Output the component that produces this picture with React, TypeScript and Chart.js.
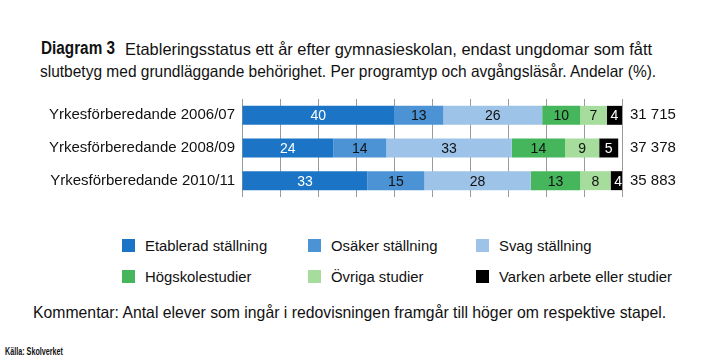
import React, { useEffect, useRef } from "react";
import { Chart, registerables } from "chart.js";

Chart.register(...registerables);

const categories = [
  "Yrkesförberedande 2006/07",
  "Yrkesförberedande 2008/09",
  "Yrkesförberedande 2010/11",
];
const totals = ["31 715", "37 378", "35 883"];

const seriesNames = [
  "Etablerad ställning",
  "Osäker ställning",
  "Svag ställning",
  "Högskolestudier",
  "Övriga studier",
  "Varken arbete eller studier",
];
const etablerad = [40, 24, 33];
const osaker = [13, 14, 15];
const svag = [26, 33, 28];
const hogskole = [10, 14, 13];
const ovriga = [7, 9, 8];
const varken = [4, 5, 4];

const titleBold = "Diagram 3";
const titleLine1 = "Etableringsstatus ett år efter gymnasieskolan, endast ungdomar som fått";
const titleLine2 = "slutbetyg med grundläggande behörighet. Per programtyp och avgångsläsår. Andelar (%).";
const comment = "Kommentar: Antal elever som ingår i redovisningen framgår till höger om respektive stapel.";
const source = "Källa: Skolverket";

const seriesValues = [etablerad, osaker, svag, hogskole, ovriga, varken];
const seriesColors = ["#1b74c5", "#4b93d4", "#9dc4e8", "#45b65b", "#a6dc9c", "#000000"];
const labelColors = ["#ffffff", "#111111", "#111111", "#111111", "#111111", "#ffffff"];

const SANS = '"Liberation Sans", Arial, sans-serif';

let measureCtx: CanvasRenderingContext2D | null = null;
function measure(text: string, size: number, bold = false) {
  if (!measureCtx) measureCtx = document.createElement("canvas").getContext("2d");
  measureCtx!.font = `${bold ? "bold " : ""}${size}px ${SANS}`;
  return measureCtx!.measureText(text).width;
}

function Scaled(props: {
  text: string;
  left: number;
  top: number;
  width: number;
  size: number;
  lineHeight: number;
  bold?: boolean;
  scale?: number;
}) {
  const s = props.scale ?? props.width / measure(props.text, props.size, props.bold);
  return (
    <div
      style={{
        position: "absolute",
        left: props.left,
        top: props.top,
        fontFamily: SANS,
        fontSize: props.size,
        fontWeight: props.bold ? "bold" : "normal",
        lineHeight: `${props.lineHeight}px`,
        whiteSpace: "nowrap",
        transform: `scaleX(${s})`,
        transformOrigin: "0 0",
      }}
    >
      {props.text}
    </div>
  );
}

const valueLabels = {
  id: "valueLabels",
  afterDatasetsDraw(chart: any) {
    const ctx = chart.ctx;
    ctx.save();
    ctx.font = `14px ${SANS}`;
    ctx.textAlign = "center";
    ctx.textBaseline = "middle";
    chart.data.datasets.forEach((ds: any, di: number) => {
      const meta = chart.getDatasetMeta(di);
      meta.data.forEach((el: any, i: number) => {
        const v = ds.data[i];
        const cx = (el.x + el.base) / 2;
        ctx.fillStyle = labelColors[di];
        ctx.fillText(String(v), cx, el.y + 1);
      });
    });
    ctx.restore();
  },
};

function BarChart() {
  const ref = useRef<HTMLCanvasElement>(null);
  useEffect(() => {
    const noPad = (scale: any) => {
      scale.paddingTop = 0;
      scale.paddingBottom = 0;
    };
    const chart = new Chart(ref.current!, {
      type: "bar",
      data: {
        labels: categories,
        datasets: seriesNames.map((name, i) => ({
          label: name,
          data: seriesValues[i],
          backgroundColor: seriesColors[i],
          borderWidth: 0,
          categoryPercentage: 1,
          barPercentage: 0.58,
          yAxisID: "y",
        })),
      },
      options: {
        indexAxis: "y",
        animation: false,
        responsive: false,
        maintainAspectRatio: false,
        layout: { padding: { top: 9, bottom: 8, left: 0, right: 0 } },
        plugins: { legend: { display: false }, title: { display: false }, tooltip: { enabled: false } },
        scales: {
          x: {
            stacked: true,
            min: 0,
            max: 100,
            ticks: { display: false, stepSize: 10 },
            grid: { color: "#9a9a9a", lineWidth: 1, drawTicks: false },
            border: { display: false },
            afterFit(scale: any) {
              scale.height = 0;
              scale.paddingLeft = 0;
              scale.paddingRight = 0;
            },
          },
          y: {
            stacked: true,
            position: "left",
            grid: { display: false, drawTicks: false },
            border: { display: false },
            ticks: { color: "#111", font: { family: SANS, size: 15 }, padding: 7 },
            afterFit(scale: any) {
              scale.width = 242;
              noPad(scale);
            },
          },
          y2: {
            type: "category",
            labels: totals,
            position: "right",
            grid: { display: false, drawTicks: false },
            border: { display: false },
            ticks: { color: "#111", font: { family: SANS, size: 15 }, padding: 8 },
            afterFit(scale: any) {
              scale.width = 101;
              noPad(scale);
            },
          },
        },
      },
      plugins: [valueLabels],
    } as any);
    return () => chart.destroy();
  }, []);
  return (
    <canvas
      ref={ref}
      width={723}
      height={115}
      style={{ position: "absolute", left: 0, top: 90, width: 723, height: 115 }}
    />
  );
}

const legendCols = [122, 308, 476];
const legendRowCenters = [245.5, 276.5];
const LEGEND_SIZE = 15.5;

export default function App() {
  const legendScale = 173 / measure(seriesNames[5], LEGEND_SIZE);
  return (
    <div
      style={{
        position: "fixed",
        left: 0,
        top: 0,
        width: 723,
        height: 362,
        background: "#fff",
        overflow: "hidden",
        color: "#111",
      }}
    >
      <Scaled text={titleBold} left={41} top={36.5} width={74} size={17.5} lineHeight={22} bold />
      <Scaled text={titleLine1} left={125} top={37.5} width={527} size={16.5} lineHeight={22} />
      <Scaled text={titleLine2} left={40} top={59.5} width={617} size={16.5} lineHeight={22} />
      <BarChart />
      {seriesNames.map((name, i) => {
        const col = i % 3;
        const row = Math.floor(i / 3);
        const cy = legendRowCenters[row];
        return (
          <React.Fragment key={name}>
            <div
              style={{
                position: "absolute",
                left: legendCols[col],
                top: cy - 6.5,
                width: 13,
                height: 13,
                background: seriesColors[i],
              }}
            />
            <Scaled
              text={name}
              left={legendCols[col] + 23}
              top={cy - 10}
              width={0}
              size={LEGEND_SIZE}
              lineHeight={20}
              scale={legendScale}
            />
          </React.Fragment>
        );
      })}
      <Scaled text={comment} left={33} top={301} width={634} size={16.5} lineHeight={22} />
      <Scaled text={source} left={5} top={344} width={58} size={11} lineHeight={14} bold />
    </div>
  );
}
